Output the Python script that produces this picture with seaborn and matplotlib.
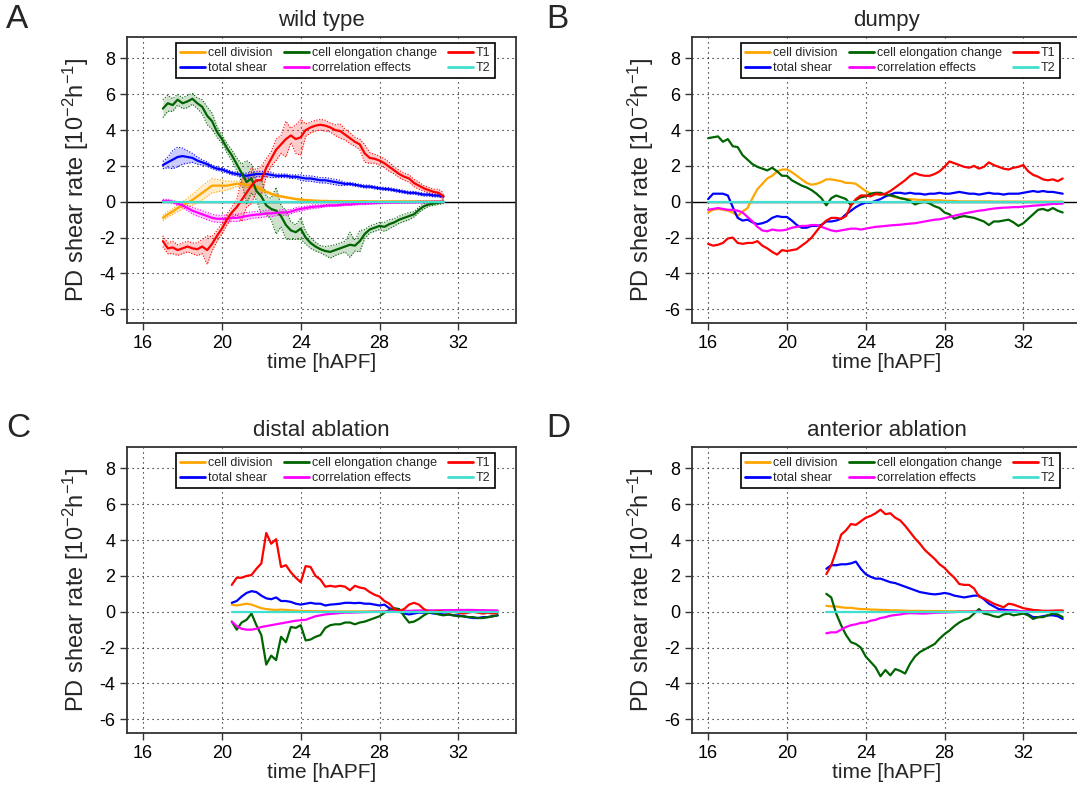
import numpy as np
import pandas as pd
import matplotlib
matplotlib.use("Agg")
import matplotlib.pyplot as plt
import seaborn as sns
from matplotlib.lines import Line2D

# ---------------- data ----------------
components = ["cell division", "total shear", "cell elongation change",
              "correlation effects", "T1", "T2"]
colors = {"cell division": "#FFA500", "total shear": "#0000FF",
          "cell elongation change": "#006400", "correlation effects": "#FF00FF",
          "T1": "#FF0000", "T2": "#40E0D0"}
panel_titles = ["wild type", "dumpy", "distal ablation", "anterior ablation"]
panel_letters = ["A", "B", "C", "D"]
x_ticks = [16, 20, 24, 28, 32]
y_ticks = [-6, -4, -2, 0, 2, 4, 6, 8]

# --- A: wild type ---
time_a = [17.0, 17.25, 17.5, 17.75, 18.0, 18.25, 18.5, 18.75,
          19.0, 19.25, 19.5, 19.75, 20.0, 20.25, 20.5, 20.75,
          21.0, 21.25, 21.5, 21.75, 22.0, 22.25, 22.5, 22.75,
          23.0, 23.25, 23.5, 23.75, 24.0, 24.25, 24.5, 24.75,
          25.0, 25.25, 25.5, 25.75, 26.0, 26.25, 26.5, 26.75,
          27.0, 27.25, 27.5, 27.75, 28.0, 28.25, 28.5, 28.75,
          29.0, 29.25, 29.5, 29.75, 30.0, 30.25, 30.5, 30.75,
          31.0, 31.25]
division_a = [-0.9, -0.7, -0.55, -0.35, -0.2, -0.05, 0.1, 0.3,
              0.5, 0.7, 0.9, 0.9, 0.9, 0.9, 0.95, 1.0,
              1.0, 0.95, 0.9, 0.8, 0.7, 0.55, 0.45, 0.35,
              0.3, 0.25, 0.2, 0.15, 0.12, 0.1, 0.08, 0.06,
              0.05, 0.05, 0.04, 0.04, 0.04, 0.03, 0.03, 0.03,
              0.03, 0.03, 0.02, 0.02, 0.02, 0.02, 0.02, 0.02,
              0.02, 0.02, 0.02, 0.02, 0.02, 0.02, 0.02, 0.02,
              0.02, 0.02]
total_a = [2.05, 2.2, 2.35, 2.5, 2.55, 2.5, 2.45, 2.3,
           2.2, 2.1, 1.95, 1.85, 1.8, 1.7, 1.6, 1.55,
           1.5, 1.45, 1.5, 1.55, 1.55, 1.55, 1.5, 1.45,
           1.45, 1.45, 1.4, 1.4, 1.35, 1.3, 1.3, 1.25,
           1.2, 1.2, 1.15, 1.1, 1.05, 1.0, 1.0, 0.95,
           0.9, 0.85, 0.85, 0.8, 0.75, 0.72, 0.7, 0.65,
           0.6, 0.55, 0.5, 0.5, 0.45, 0.4, 0.4, 0.35,
           0.35, 0.3]
elong_a = [5.2, 5.5, 5.4, 5.7, 5.5, 5.6, 5.75, 5.5,
           5.3, 4.8, 4.5, 3.9, 3.5, 3.0, 2.6, 2.1,
           1.6, 1.1, 1.3, 0.6, 0.3, -0.2, -0.4, -0.5,
           -0.8, -1.3, -1.6, -1.7, -1.5, -2.0, -2.3, -2.5,
           -2.65, -2.75, -2.8, -2.7, -2.6, -2.5, -2.4, -2.45,
           -2.2, -1.8, -1.55, -1.45, -1.35, -1.4, -1.25, -1.15,
           -1.0, -0.9, -0.8, -0.7, -0.45, -0.25, -0.15, -0.1,
           -0.05, 0.0]
corr_a = [0.05, 0.05, 0.0, -0.1, -0.2, -0.35, -0.5, -0.6,
          -0.7, -0.8, -0.9, -0.95, -0.95, -0.95, -0.9, -0.9,
          -0.85, -0.8, -0.75, -0.72, -0.7, -0.65, -0.65, -0.62,
          -0.6, -0.6, -0.55, -0.45, -0.4, -0.35, -0.3, -0.27,
          -0.25, -0.22, -0.2, -0.2, -0.18, -0.15, -0.15, -0.12,
          -0.1, -0.1, -0.08, -0.07, -0.05, -0.04, -0.04, -0.03,
          -0.03, -0.02, -0.02, -0.02, -0.01, -0.01, -0.01, 0.0,
          0.0, 0.0]
t1_a = [-2.2, -2.6, -2.55, -2.7, -2.6, -2.5, -2.6, -2.65,
        -2.5, -2.7, -2.35, -1.9, -1.5, -1.0, -0.6, -0.3,
        0.1, 0.5, 0.9, 1.2, 1.2, 1.9, 2.4, 2.9,
        3.2, 3.5, 3.7, 3.5, 3.6, 4.0, 4.15, 4.25,
        4.3, 4.25, 4.15, 4.0, 3.95, 3.75, 3.55, 3.35,
        3.2, 2.7, 2.45, 2.4, 2.3, 2.15, 1.95, 1.75,
        1.55, 1.4, 1.3, 1.05, 0.9, 0.75, 0.65, 0.55,
        0.5, 0.3]
t2_a = [0, 0, 0, 0, 0, 0, 0, 0, 0, 0, 0, 0, 0, 0, 0, 0,
        0, 0, 0, 0, 0, 0, 0, 0, 0, 0, 0, 0, 0, 0, 0, 0,
        0, 0, 0, 0, 0, 0, 0, 0, 0, 0, 0, 0, 0, 0, 0, 0,
        0, 0, 0, 0, 0, 0, 0, 0, 0, 0]
# uncertainty half-widths (wild type only)
division_err_a = [0.15, 0.15, 0.15, 0.2, 0.2, 0.25, 0.3, 0.35,
                  0.4, 0.4, 0.4, 0.35, 0.3, 0.25, 0.2, 0.15,
                  0.15, 0.15, 0.12, 0.1, 0.1, 0.08, 0.07, 0.06,
                  0.05, 0.05, 0.04, 0.04, 0.04, 0.03, 0.03, 0.03,
                  0.02, 0.02, 0.02, 0.02, 0.02, 0.02, 0.02, 0.02,
                  0.02, 0.02, 0.02, 0.02, 0.02, 0.02, 0.02, 0.02,
                  0.02, 0.02, 0.02, 0.02, 0.02, 0.02, 0.02, 0.02,
                  0.02, 0.02]
total_err_a = [0.2, 0.3, 0.5, 0.55, 0.45, 0.35, 0.25, 0.2,
               0.15, 0.12, 0.1, 0.1, 0.1, 0.1, 0.1, 0.1,
               0.1, 0.15, 0.15, 0.15, 0.15, 0.15, 0.15, 0.1,
               0.1, 0.1, 0.1, 0.1, 0.15, 0.15, 0.15, 0.15,
               0.15, 0.15, 0.15, 0.15, 0.15, 0.08, 0.08, 0.08,
               0.08, 0.08, 0.08, 0.08, 0.08, 0.08, 0.08, 0.08,
               0.08, 0.08, 0.08, 0.08, 0.08, 0.08, 0.08, 0.08,
               0.08, 0.08]
elong_err_a = [0.5, 0.45, 0.35, 0.3, 0.3, 0.35, 0.3, 0.3,
               0.4, 0.5, 0.45, 0.3, 0.25, 0.25, 0.3, 0.35,
               0.5, 1.2, 0.8, 0.5, 1.0, 0.5, 0.6, 1.3,
               0.6, 0.8, 0.5, 0.4, 0.6, 0.35, 0.3, 0.25,
               0.2, 0.25, 0.35, 0.3, 0.3, 0.3, 0.7, 0.3,
               0.6, 0.25, 0.2, 0.2, 0.2, 0.25, 0.25, 0.2,
               0.2, 0.2, 0.2, 0.15, 0.15, 0.15, 0.1, 0.1,
               0.1, 0.1]
corr_err_a = [0.08, 0.08, 0.08, 0.1, 0.12, 0.15, 0.18, 0.2,
              0.2, 0.2, 0.2, 0.2, 0.2, 0.2, 0.2, 0.2,
              0.2, 0.2, 0.18, 0.18, 0.18, 0.18, 0.18, 0.15,
              0.15, 0.15, 0.12, 0.12, 0.12, 0.1, 0.1, 0.1,
              0.08, 0.06, 0.06, 0.06, 0.06, 0.06, 0.06, 0.06,
              0.06, 0.06, 0.06, 0.06, 0.06, 0.06, 0.06, 0.06,
              0.06, 0.06, 0.06, 0.06, 0.06, 0.06, 0.06, 0.06,
              0.06, 0.06]
t1_err_a = [0.3, 0.3, 0.35, 0.3, 0.3, 0.3, 0.3, 0.35,
            0.4, 0.8, 0.4, 0.3, 0.3, 0.3, 0.3, 0.4,
            1.2, 0.8, 1.0, 0.6, 0.8, 0.5, 0.4, 0.6,
            0.5, 1.0, 0.4, 0.8, 1.0, 0.35, 0.3, 0.3,
            0.3, 0.3, 0.25, 0.3, 0.4, 0.3, 0.3, 0.25,
            0.3, 0.5, 0.3, 0.25, 0.25, 0.25, 0.25, 0.2,
            0.2, 0.2, 0.2, 0.2, 0.2, 0.15, 0.15, 0.15,
            0.2, 0.2]

# --- B: dumpy ---
time_b = [16.0, 16.25, 16.5, 16.75, 17.0, 17.25, 17.5, 17.75,
          18.0, 18.25, 18.5, 18.75, 19.0, 19.25, 19.5, 19.75,
          20.0, 20.25, 20.5, 20.75, 21.0, 21.25, 21.5, 21.75,
          22.0, 22.25, 22.5, 22.75, 23.0, 23.25, 23.5, 23.75,
          24.0, 24.25, 24.5, 24.75, 25.0, 25.25, 25.5, 25.75,
          26.0, 26.25, 26.5, 26.75, 27.0, 27.25, 27.5, 27.75,
          28.0, 28.25, 28.5, 28.75, 29.0, 29.25, 29.5, 29.75,
          30.0, 30.25, 30.5, 30.75, 31.0, 31.25, 31.5, 31.75,
          32.0, 32.25, 32.5, 32.75, 33.0, 33.25, 33.5, 33.75,
          34.0]
division_b = [-0.6, -0.45, -0.4, -0.45, -0.5, -0.6, -0.8, -0.55,
              -0.35, 0.2, 0.7, 1.0, 1.3, 1.45, 1.7, 1.8,
              1.8, 1.65, 1.45, 1.25, 1.05, 0.95, 1.0, 1.1,
              1.25, 1.25, 1.2, 1.15, 1.05, 1.05, 1.0, 0.8,
              0.6, 0.45, 0.4, 0.4, 0.4, 0.35, 0.25, 0.2,
              0.15, 0.15, 0.12, 0.1, 0.1, 0.1, 0.08, 0.08,
              0.06, 0.05, 0.04, 0.02, 0.02, 0.02, 0.02, 0.02,
              0.02, 0.02, 0.01, 0.01, 0.01, 0.01, 0.01, 0.01,
              0.01, 0.01, 0.01, 0.01, 0.01, 0.01, 0.01, 0.01,
              0.01]
total_b = [0.15, 0.45, 0.45, 0.45, 0.35, -0.3, -0.9, -1.05,
           -1.0, -1.15, -1.25, -1.2, -1.1, -0.9, -0.8, -0.85,
           -0.85, -1.05, -1.3, -1.45, -1.45, -1.35, -1.35, -1.3,
           -1.1, -1.1, -1.05, -0.95, -0.7, -0.5, -0.3, -0.15,
           -0.05, -0.05, 0.05, 0.15, 0.3, 0.4, 0.5, 0.5,
           0.45, 0.5, 0.45, 0.45, 0.4, 0.45, 0.45, 0.5,
           0.45, 0.45, 0.5, 0.55, 0.5, 0.45, 0.45, 0.4,
           0.45, 0.5, 0.45, 0.45, 0.4, 0.45, 0.45, 0.45,
           0.5, 0.55, 0.6, 0.55, 0.6, 0.55, 0.55, 0.5,
           0.45]
elong_b = [3.55, 3.6, 3.65, 3.35, 3.5, 3.1, 3.05, 2.6,
           2.35, 2.1, 1.95, 1.85, 1.75, 1.9, 1.7, 1.45,
           1.45, 1.2, 1.05, 0.9, 0.8, 0.65, 0.45, 0.2,
           -0.2, 0.2, 0.35, 0.25, 0.15, -0.2, 0.1, 0.25,
           0.3, 0.45, 0.5, 0.5, 0.4, 0.35, 0.3, 0.2,
           0.15, 0.05, -0.15, -0.05, 0.0, -0.1, -0.25, -0.35,
           -0.6, -0.7, -0.95, -0.85, -0.8, -0.85, -0.9, -1.0,
           -1.1, -1.3, -1.1, -1.1, -1.05, -1.0, -1.15, -1.35,
           -1.2, -0.95, -0.7, -0.45, -0.4, -0.5, -0.35, -0.5,
           -0.6]
corr_b = [-0.45, -0.4, -0.35, -0.4, -0.45, -0.45, -0.5, -0.6,
          -0.85, -1.1, -1.4, -1.6, -1.65, -1.55, -1.6, -1.6,
          -1.55, -1.45, -1.4, -1.35, -1.35, -1.3, -1.3, -1.4,
          -1.5, -1.6, -1.65, -1.6, -1.55, -1.5, -1.5, -1.55,
          -1.5, -1.45, -1.4, -1.38, -1.35, -1.32, -1.3, -1.28,
          -1.25, -1.22, -1.2, -1.15, -1.1, -1.05, -1.0, -0.98,
          -0.92, -0.85, -0.78, -0.72, -0.65, -0.6, -0.55, -0.5,
          -0.47, -0.42, -0.38, -0.35, -0.33, -0.32, -0.3, -0.3,
          -0.27, -0.25, -0.22, -0.2, -0.18, -0.15, -0.12, -0.12,
          -0.1]
t1_b = [-2.35, -2.45, -2.4, -2.3, -2.05, -2.0, -2.3, -2.35,
        -2.3, -2.3, -2.2, -2.45, -2.6, -2.8, -2.95, -2.7,
        -2.75, -2.7, -2.65, -2.45, -2.25, -2.0, -1.65, -1.3,
        -1.05, -0.9, -0.9, -0.95, -0.8, -0.2, 0.15, 0.35,
        0.35, 0.3, 0.45, 0.4, 0.45, 0.6, 0.8, 1.0,
        1.2, 1.45, 1.6, 1.5, 1.45, 1.45, 1.55, 1.7,
        1.95, 2.25, 2.15, 2.05, 1.95, 1.9, 2.0, 1.85,
        1.95, 2.2, 2.05, 1.95, 1.85, 1.8, 1.9, 1.95,
        2.05, 1.7, 1.5, 1.4, 1.25, 1.2, 1.25, 1.15,
        1.3]
t2_b = [0, 0, 0, 0, 0, 0, 0, 0, 0, 0, 0, 0, 0, 0, 0, 0,
        0, 0, 0, 0, 0, 0, 0, 0, 0, 0, 0, 0, 0, 0, 0, 0,
        0, 0, 0, 0, 0, 0, 0, 0, 0, 0, 0, 0, 0, 0, 0, 0,
        0, 0, 0, 0, 0, 0, 0, 0, 0, 0, 0, 0, 0, 0, 0, 0,
        0, 0, 0, 0, 0, 0, 0, 0, 0]

# --- C: distal ablation ---
time_c = [20.5, 20.75, 21.0, 21.25, 21.5, 21.75, 22.0, 22.25,
          22.5, 22.75, 23.0, 23.25, 23.5, 23.75, 24.0, 24.25,
          24.5, 24.75, 25.0, 25.25, 25.5, 25.75, 26.0, 26.25,
          26.5, 26.75, 27.0, 27.25, 27.5, 27.75, 28.0, 28.25,
          28.5, 28.75, 29.0, 29.25, 29.5, 29.75, 30.0, 30.25,
          30.5, 30.75, 31.0, 31.25, 31.5, 31.75, 32.0, 32.25,
          32.5, 32.75, 33.0, 33.25, 33.5, 33.75, 34.0]
division_c = [0.4, 0.35, 0.4, 0.45, 0.4, 0.3, 0.2, 0.15,
              0.12, 0.1, 0.12, 0.1, 0.08, 0.06, 0.05, 0.04,
              0.04, 0.03, 0.03, 0.03, 0.02, 0.02, 0.02, 0.02,
              0.02, 0.02, 0.02, 0.02, 0.02, 0.02, 0.02, 0.02,
              0.02, 0.02, 0.02, 0.02, 0.02, 0.02, 0.02, 0.02,
              0.02, 0.02, 0.02, 0.02, 0.02, 0.02, 0.02, 0.02,
              0.01, 0.01, 0.01, 0.01, 0.01, 0.01, 0.01]
total_c = [0.5, 0.6, 0.85, 1.05, 1.15, 1.1, 0.9, 0.75,
           0.7, 0.8, 0.6, 0.6, 0.55, 0.45, 0.4, 0.45,
           0.5, 0.45, 0.45, 0.35, 0.4, 0.42, 0.45, 0.5,
           0.5, 0.48, 0.5, 0.45, 0.45, 0.4, 0.35, 0.4,
           0.2, 0.1, 0.0, -0.1, -0.15, -0.1, -0.05, -0.05,
           -0.05, -0.1, -0.1, -0.15, -0.15, -0.2, -0.2, -0.25,
           -0.3, -0.35, -0.35, -0.3, -0.3, -0.25, -0.2]
elong_c = [-0.55, -1.0, -0.6, -0.45, -0.1, -0.75, -1.3, -2.95,
           -2.45, -2.7, -1.4, -1.7, -0.85, -0.9, -0.75, -1.6,
           -1.55, -1.4, -1.3, -0.9, -0.75, -0.7, -0.7, -0.6,
           -0.6, -0.7, -0.6, -0.55, -0.45, -0.35, -0.25, -0.05,
           0.1, 0.2, 0.15, -0.25, -0.6, -0.55, -0.4, -0.2,
           -0.05, -0.05, -0.15, -0.2, -0.15, -0.2, -0.25, -0.25,
           -0.3, -0.3, -0.35, -0.35, -0.3, -0.25, -0.2]
corr_c = [-0.55, -0.8, -0.95, -1.0, -1.0, -0.95, -0.85, -0.8,
          -0.75, -0.7, -0.65, -0.6, -0.55, -0.5, -0.47, -0.45,
          -0.35, -0.25, -0.2, -0.15, -0.12, -0.1, -0.07, -0.05,
          -0.05, -0.04, -0.03, -0.02, -0.01, 0.0, 0.0, 0.01,
          0.02, 0.03, 0.04, 0.05, 0.05, 0.06, 0.07, 0.07,
          0.08, 0.08, 0.08, 0.09, 0.09, 0.09, 0.1, 0.1,
          0.1, 0.1, 0.09, 0.09, 0.08, 0.08, 0.07]
t1_c = [1.5, 1.9, 1.9, 2.0, 2.05, 2.4, 2.7, 4.4,
        3.8, 4.05, 2.5, 2.6, 2.2, 1.9, 1.65, 2.55,
        2.5, 2.0, 1.8, 1.4, 1.45, 1.4, 1.45, 1.4,
        1.2, 1.45, 1.35, 1.3, 1.1, 0.95, 0.85, 0.6,
        0.45, 0.15, 0.05, 0.15, 0.4, 0.5, 0.4, 0.15,
        0.0, 0.0, 0.05, 0.0, -0.05, 0.0, -0.05, -0.1,
        -0.05, 0.0, -0.05, -0.1, -0.05, -0.1, -0.05]
t2_c = [0, 0, 0, 0, 0, 0, 0, 0, 0, 0, 0, 0, 0, 0, 0, 0,
        0, 0, 0, 0, 0, 0, 0, 0, 0, 0, 0, 0, 0, 0, 0, 0,
        0, 0, 0, 0, 0, 0, 0, 0, 0, 0, 0, 0, 0, 0, 0, 0,
        0, 0, 0, 0, 0, 0, 0]

# --- D: anterior ablation ---
time_d = [22.0, 22.25, 22.5, 22.75, 23.0, 23.25, 23.5, 23.75,
          24.0, 24.25, 24.5, 24.75, 25.0, 25.25, 25.5, 25.75,
          26.0, 26.25, 26.5, 26.75, 27.0, 27.25, 27.5, 27.75,
          28.0, 28.25, 28.5, 28.75, 29.0, 29.25, 29.5, 29.75,
          30.0, 30.25, 30.5, 30.75, 31.0, 31.25, 31.5, 31.75,
          32.0, 32.25, 32.5, 32.75, 33.0, 33.25, 33.5, 33.75,
          34.0]
division_d = [0.33, 0.3, 0.3, 0.25, 0.22, 0.22, 0.18, 0.15,
              0.15, 0.12, 0.12, 0.1, 0.1, 0.08, 0.08, 0.07,
              0.06, 0.05, 0.05, 0.05, 0.04, 0.04, 0.04, 0.04,
              0.03, 0.03, 0.03, 0.03, 0.03, 0.03, 0.03, 0.03,
              0.03, 0.03, 0.03, 0.03, 0.03, 0.03, 0.03, 0.03,
              0.02, 0.02, 0.02, 0.02, 0.02, 0.02, 0.02, 0.02,
              0.02]
total_d = [2.4, 2.6, 2.6, 2.65, 2.65, 2.7, 2.8, 2.4,
           2.1, 1.95, 1.85, 1.85, 1.75, 1.65, 1.6, 1.5,
           1.4, 1.3, 1.2, 1.1, 1.05, 1.0, 0.97, 1.0,
           1.05, 1.0, 0.9, 0.85, 0.8, 0.85, 0.9, 0.9,
           0.7, 0.45, 0.3, 0.15, 0.12, 0.08, 0.07, 0.05,
           0.0, -0.15, -0.3, -0.3, -0.25, -0.2, -0.2, -0.25,
           -0.4]
elong_d = [1.0, 0.8, -0.1, -0.75, -1.3, -1.7, -1.8, -2.0,
           -2.5, -2.8, -3.1, -3.6, -3.25, -3.55, -3.2, -3.3,
           -3.45, -2.9, -2.5, -2.25, -2.1, -1.95, -1.8, -1.5,
           -1.25, -1.05, -0.8, -0.6, -0.45, -0.35, -0.1, 0.15,
           -0.1, -0.15, -0.25, -0.3, -0.15, -0.1, -0.2, -0.15,
           -0.1, -0.2, -0.4, -0.3, -0.3, -0.2, -0.1, -0.15,
           -0.3]
corr_d = [-1.2, -1.15, -1.15, -1.0, -0.85, -0.75, -0.7, -0.62,
          -0.6, -0.5, -0.45, -0.35, -0.3, -0.22, -0.18, -0.15,
          -0.1, -0.08, -0.08, -0.1, -0.1, -0.08, -0.06, -0.05,
          -0.04, -0.03, -0.02, 0.0, 0.0, 0.0, 0.01, 0.01,
          0.01, 0.02, 0.02, 0.02, 0.02, 0.03, 0.03, 0.03,
          0.03, 0.03, 0.04, 0.04, 0.04, 0.04, 0.04, 0.04,
          0.04]
t1_d = [2.1, 2.6, 3.4, 4.3, 4.55, 4.9, 4.85, 5.05,
        5.25, 5.35, 5.5, 5.7, 5.45, 5.5, 5.25, 5.1,
        4.8, 4.45, 4.1, 3.8, 3.45, 3.2, 2.95, 2.65,
        2.45, 2.15, 1.9, 1.55, 1.5, 1.5, 1.3, 0.85,
        0.75, 0.6, 0.45, 0.35, 0.25, 0.45, 0.4, 0.3,
        0.2, 0.15, 0.1, 0.08, 0.05, 0.05, 0.06, 0.07,
        0.07]
t2_d = [0, 0, 0, 0, 0, 0, 0, 0, 0, 0, 0, 0, 0, 0, 0, 0,
        0, 0, 0, 0, 0, 0, 0, 0, 0, 0, 0, 0, 0, 0, 0, 0,
        0, 0, 0, 0, 0, 0, 0, 0, 0, 0, 0, 0, 0, 0, 0, 0,
        0]

# ---------------- style ----------------
sns.set_theme(style="ticks")
plt.rcParams["font.family"] = ["Liberation Sans", "DejaVu Sans"]
plt.rcParams["mathtext.default"] = "regular"
plt.rcParams["axes.unicode_minus"] = False

fig = plt.figure(figsize=(10.77, 7.91), dpi=100)
W, H = 1077.0, 791.0
ax_w, ax_h = 389 / W, 286 / H
positions = [(127 / W, 1 - 323 / H), (692 / W, 1 - 323 / H),
             (127 / W, 1 - 733 / H), (692 / W, 1 - 733 / H)]
letter_pos = [(6 / W, 1 - 4 / H), (546 / W, 1 - 4 / H),
              (6 / W, 1 - 413 / H), (546 / W, 1 - 413 / H)]


def draw_panel(ax, time, series, title, errs=None, zero_line=True):
    rows = []
    for comp in components:
        for t, v in zip(time, series[comp]):
            rows.append((t, v, comp))
    df = pd.DataFrame(rows, columns=["time", "rate", "component"])

    ax.grid(True, color="black", linestyle=(0, (1, 3.5)), linewidth=0.8)
    ax.set_axisbelow(True)
    if zero_line:
        ax.axhline(0, color="black", lw=1.0, zorder=1.5)
    if errs is not None:
        for comp, e in errs.items():
            v = np.asarray(series[comp], dtype=float)
            e = np.asarray(e, dtype=float)
            c = colors[comp]
            ax.fill_between(time, v - e, v + e, color=c, alpha=0.2, lw=0, zorder=1.6)
            ax.plot(time, v - e, ls=(0, (1, 1.5)), lw=0.8, color=c, zorder=1.7)
            ax.plot(time, v + e, ls=(0, (1, 1.5)), lw=0.8, color=c, zorder=1.7)
    sns.lineplot(data=df, x="time", y="rate", hue="component",
                 hue_order=components, palette=colors, estimator=None,
                 sort=False, lw=1.6, legend=False, ax=ax, zorder=2)

    ax.set_xlim(15.18, 34.93)
    ax.set_ylim(-6.77, 9.2)
    ax.set_xticks(x_ticks)
    ax.set_yticks(y_ticks)
    ax.set_title(title, fontsize=16, pad=8)
    ax.set_xlabel("time [hAPF]", fontsize=15, labelpad=1)
    ax.set_ylabel(r"PD shear rate [10$^{-2}$h$^{-1}$]", fontsize=17, labelpad=6)
    ax.tick_params(direction="out", length=5, width=1, colors="#333333",
                   labelcolor="black", labelsize=13)
    for sp in ax.spines.values():
        sp.set_visible(True)
        sp.set_color("#333333")
        sp.set_linewidth(1.3)

    handles = [Line2D([0], [0], color=colors[c], lw=2) for c in components]
    leg = ax.legend(handles, components, ncol=3, loc="upper left",
                    bbox_to_anchor=(0.126, 0.978), fontsize=9, frameon=True,
                    fancybox=False, edgecolor="black", framealpha=1,
                    handlelength=2.0, handletextpad=0.25, columnspacing=0.9,
                    borderpad=0.3, labelspacing=0.25, borderaxespad=0)
    leg.get_frame().set_linewidth(1.2)


panels = [
    (time_a, {"cell division": division_a, "total shear": total_a,
              "cell elongation change": elong_a, "correlation effects": corr_a,
              "T1": t1_a, "T2": t2_a},
     {"cell division": division_err_a, "total shear": total_err_a,
      "cell elongation change": elong_err_a, "correlation effects": corr_err_a,
      "T1": t1_err_a}, True),
    (time_b, {"cell division": division_b, "total shear": total_b,
              "cell elongation change": elong_b, "correlation effects": corr_b,
              "T1": t1_b, "T2": t2_b}, None, True),
    (time_c, {"cell division": division_c, "total shear": total_c,
              "cell elongation change": elong_c, "correlation effects": corr_c,
              "T1": t1_c, "T2": t2_c}, None, False),
    (time_d, {"cell division": division_d, "total shear": total_d,
              "cell elongation change": elong_d, "correlation effects": corr_d,
              "T1": t1_d, "T2": t2_d}, None, False),
]

for i, (time, series, errs, zl) in enumerate(panels):
    ax = fig.add_axes([positions[i][0], positions[i][1], ax_w, ax_h])
    draw_panel(ax, time, series, panel_titles[i], errs=errs, zero_line=zl)
    fig.text(letter_pos[i][0], letter_pos[i][1], panel_letters[i],
             fontsize=24, va="top", ha="left")

fig.savefig("out.png", dpi=100)
